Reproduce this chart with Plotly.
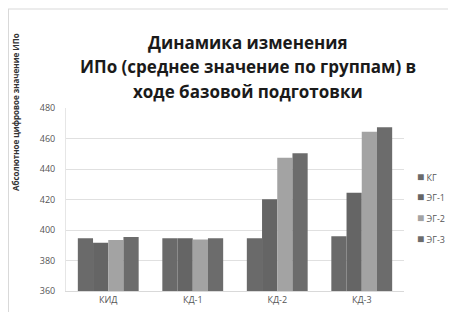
import plotly.graph_objects as go

categories = ["КИД", "КД-1", "КД-2", "КД-3"]
series_names = ["КГ", "ЭГ-1", "ЭГ-2", "ЭГ-3"]
kg = [394.6, 394.6, 394.6, 395.9]
eg1 = [391.7, 394.6, 420.1, 424.5]
eg2 = [393.4, 393.7, 447.4, 464.5]
eg3 = [395.4, 394.6, 450.3, 467.3]
values = [kg, eg1, eg2, eg3]
colors = ["#6a6a6a", "#656565", "#a3a3a3", "#6c6c6c"]
title_lines = ["Динамика изменения", "ИПо (среднее значение по группам) в", "ходе базовой подготовки"]

fig = go.Figure()
for name, vals, c in zip(series_names, values, colors):
    fig.add_trace(go.Bar(x=categories, y=vals, name=name, showlegend=False,
                         marker=dict(color=c, line=dict(width=0))))

OFF = 8  # page body offset
W, H = 456 - OFF, 312 - OFF
L, T = 66 - OFF, 108 - OFF
R = W - (404 - OFF)
B = H - (291 - OFF)
PW, PH = W - L - R, H - T - B


def px(xr):
    return (xr - OFF - L) / PW


def py(yr):
    return (291 - yr) / PH


annotations = [dict(text="Абсолютное цифровое значение ИПо", textangle=-90,
                    xref="paper", yref="paper", x=px(15), y=py(112),
                    xanchor="center", yanchor="middle", showarrow=False,
                    font=dict(size=8, color="#333333", weight="bold"))]
for i, line in enumerate(title_lines):
    yc = 42 + 25 * i
    annotations.append(dict(text=line, xref="paper", yref="paper",
                            x=px(248), y=py(yc),
                            xanchor="center", yanchor="middle", showarrow=False,
                            font=dict(size=17, color="#1a1a1a", weight="bold")))
for i, (name, c) in enumerate(zip(series_names, colors)):
    yc = 176 + 20.7 * i
    annotations.append(dict(text=f"<span style='color:{c};font-size:12px'>■</span> {name}",
                            xref="paper", yref="paper",
                            x=px(415), y=py(yc),
                            xanchor="left", yanchor="middle", showarrow=False,
                            font=dict(size=9, color="#555555")))

fig.update_layout(
    width=W, height=H,
    margin=dict(l=L, r=R, t=T, b=B, autoexpand=False),
    paper_bgcolor="white", plot_bgcolor="white",
    barmode="group", bargap=0.28, bargroupgap=0,
    font=dict(family="Open Sans, sans-serif", color="#404040"),
    showlegend=False,
    xaxis=dict(showgrid=False, showline=True, linecolor="#d9d9d9", ticks="",
               tickfont=dict(size=9, color="#555555")),
    yaxis=dict(range=[360, 480], dtick=20, showgrid=True, gridcolor="#e0e0e0", gridwidth=1,
               showline=True, linecolor="#e6e6e6", ticks="", zeroline=False,
               tickfont=dict(size=9, color="#555555"), ticklabelstandoff=8),
    shapes=[
        dict(type="line", xref="paper", yref="paper", x0=px(8), x1=px(456), y0=py(9), y1=py(9),
             line=dict(color="#d9d9d9", width=1), layer="below"),
        dict(type="line", xref="paper", yref="paper", x0=px(8.5), x1=px(8.5), y0=py(9), y1=py(312),
             line=dict(color="#d9d9d9", width=1), layer="below"),
    ],
    annotations=annotations,
)
fig.write_html("out.html")
